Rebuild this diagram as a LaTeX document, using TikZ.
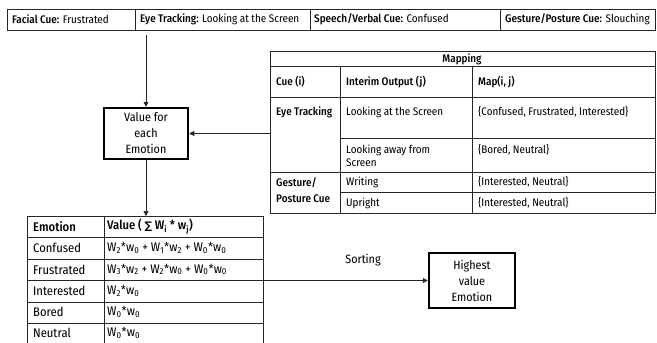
\documentclass[tikz,border=0pt]{standalone}
\usepackage{fontspec}
\setmainfont{Fira Sans Condensed}[BoldFont={Fira Sans Condensed Medium}]
\newfontfamily\symf{DejaVu Sans}
\usetikzlibrary{arrows.meta}
\newcommand\Ww[2]{W\textsubscript{#1}*w\textsubscript{#2}}
\begin{document}
\begin{tikzpicture}[x=1pt,y=-1pt, font=\fontsize{11}{13}\selectfont,
  grid/.style={line width=0.8pt, draw=black!85},
  arr/.style={line width=0.7pt, draw=black!85, -{Triangle[width=5pt,length=5pt]}},
  boxed/.style={draw, line width=2.5pt, align=center, inner sep=0pt, font=\fontsize{12}{16}\selectfont},
  lbl/.style={anchor=west, inner sep=0pt, align=left},
  hd/.style={lbl, font=\fontsize{11}{13}\selectfont\bfseries},
  elbl/.style={lbl, font=\fontsize{12.5}{14}\selectfont},
  ehd/.style={lbl, font=\fontsize{12.5}{14}\selectfont\bfseries}]
\useasboundingbox (0,0) rectangle (657,343);

% ---- top table
\draw[grid] (7,9) rectangle (655,30);
\foreach \x in {135,310,500} \draw[grid] (\x,9) -- (\x,30);
\node[lbl] (t1) at (12,19.5) {\textbf{Facial Cue:} Frustrated};
\node[lbl] (t2) at (140,19.5) {\textbf{Eye Tracking:} Looking at the Screen};
\node[lbl] (t3) at (314,19.5) {\textbf{Speech/Verbal Cue:} Confused};
\node[lbl] (t4) at (505,19.5) {\textbf{Gesture/Posture Cue:} Slouching};

% ---- mapping table
\draw[grid] (270,51) rectangle (655,213);
\draw[grid] (270,66) -- (655,66);
\draw[grid] (270,97) -- (655,97);
\draw[grid] (340,138) -- (655,138);
\draw[grid] (270,172) -- (655,172);
\draw[grid] (340,192) -- (655,192);
\draw[grid] (340,66) -- (340,213);
\draw[grid] (472,66) -- (472,213);
\node[inner sep=0pt, font=\fontsize{11}{13}\selectfont\bfseries] (mh) at (462,59) {Mapping};
\node[hd] (c1) at (276,82) {Cue (i)};
\node[hd] (c2) at (346,82) {Interim Output (j)};
\node[hd] (c3) at (478,82) {Map(i, j)};
\node[hd] (r1) at (276,112) {Eye Tracking};
\node[lbl] (r1a) at (346,112) {Looking at the Screen};
\node[lbl] (r1b) at (478,112) {\{Confused, Frustrated, Interested\}};
\node[lbl] (r2a) at (346,156) {Looking away from\\Screen};
\node[lbl] (r2b) at (478,150) {\{Bored, Neutral\}};
\node[hd] (r3) at (276,190) {Gesture/\\[3pt]Posture Cue};
\node[lbl] (r3a) at (346,182) {Writing};
\node[lbl] (r3b) at (478,182) {\{Interested, Neutral\}};
\node[lbl] (r4a) at (346,203) {Upright};
\node[lbl] (r4b) at (478,203) {\{Interested, Neutral\}};

% ---- value box
\node[boxed, minimum width=84pt, minimum height=51pt] (val) at (146,133.5) {Value for\\each\\Emotion};

% ---- emotion table
\foreach \x in {27,104,263} \draw[grid] (\x,216) -- (\x,343);
\foreach \y in {216,237,259,280,302,323} \draw[grid] (27,\y) -- (263,\y);
\node[ehd] (e0) at (33,227) {Emotion};
\node[ehd] (v0) at (107,227) {Value ( {\symf\fontsize{10.5}{12}\selectfont ∑} W\textsubscript{i} * w\textsubscript{j})};
\node[elbl] (e1) at (33,248) {Confused};
\node[elbl] (v1) at (107,248) {\Ww{2}{0} + \Ww{1}{2} + \Ww{0}{0}};
\node[elbl] (e2) at (33,269.5) {Frustrated};
\node[elbl] (v2) at (107,269.5) {\Ww{3}{2} + \Ww{2}{0} + \Ww{0}{0}};
\node[elbl] (e3) at (33,291) {Interested};
\node[elbl] (v3) at (107,291) {\Ww{2}{0}};
\node[elbl] (e4) at (33,312) {Bored};
\node[elbl] (v4) at (107,312) {\Ww{0}{0}};
\node[elbl] (e5) at (33,333) {Neutral};
\node[elbl] (v5) at (107,333) {\Ww{0}{0}};

% ---- highest box
\node[boxed, minimum width=86pt, minimum height=55pt] (hi) at (472,280.5) {Highest\\value\\Emotion};
\node[inner sep=0pt, font=\fontsize{12}{14}\selectfont] (sort) at (363,260) {Sorting};

% ---- connectors
\coordinate (topA) at (146,35);
\coordinate (mapL) at (270,133.5);
\coordinate (emoT) at (146,216);
\coordinate (emoR) at (263,280.5);
\draw[arr] (topA) -- (val.north);
\draw[arr] (mapL) -- (val.east);
\draw[arr] (val.south) -- (emoT);
\draw[arr] (emoR) -- (hi.west);
\end{tikzpicture}
\end{document}
